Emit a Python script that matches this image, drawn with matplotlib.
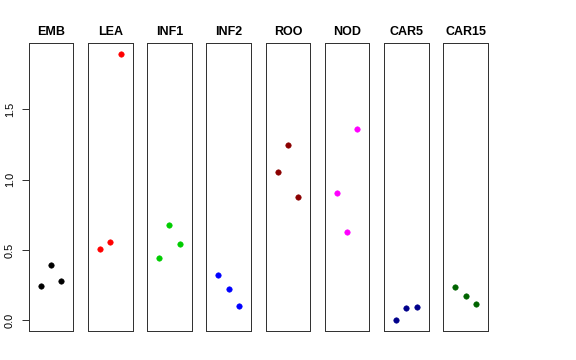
import matplotlib
matplotlib.use('Agg')
import matplotlib.pyplot as plt

plt.rcParams['font.family'] = ['Liberation Sans', 'DejaVu Sans']

# Group names and colours (one panel per group)
groups = ['EMB', 'LEA', 'INF1', 'INF2', 'ROO', 'NOD', 'CAR5', 'CAR15']
colors = ['black', 'red', '#00CD00', 'blue', '#8B0000', 'magenta', '#00008B', '#006400']

# Three replicate values per group
positions = [1, 2, 3]
emb = [0.242, 0.395, 0.282]
lea = [0.509, 0.557, 1.895]
inf1 = [0.441, 0.677, 0.540]
inf2 = [0.320, 0.222, 0.100]
roo = [1.052, 1.248, 0.874]
nod = [0.905, 0.628, 1.358]
car5 = [0.0, 0.087, 0.097]
car15 = [0.235, 0.173, 0.114]
values = [emb, lea, inf1, inf2, roo, nod, car5, car15]

yticks = [0.0, 0.5, 1.0, 1.5]
ytick_labels = ['0.0', '0.5', '1.0', '1.5']

W, H = 576, 360
fig = plt.figure(figsize=(W / 72, H / 72), dpi=72)

# R-style 4% axis expansion with shared y range
all_vals = [v for grp in values for v in grp]
ymin, ymax = min(all_vals), max(all_vals)
ypad = 0.04 * (ymax - ymin)
xmin, xmax = 0, 4
xpad = 0.04 * (xmax - xmin)

left0, step, width = 28.7, 59.23, 44.6
top, bottom = 43.3, 331.0

for i, (name, col, vals) in enumerate(zip(groups, colors, values)):
    x0 = left0 + step * i
    ax = fig.add_axes([x0 / W, (H - bottom) / H, width / W, (bottom - top) / H])
    ax.plot(positions, vals, 'o', color=col, markersize=5.5, markeredgewidth=0.5)
    ax.set_xlim(xmin - xpad, xmax + xpad)
    ax.set_ylim(ymin - ypad, ymax + ypad)
    ax.set_xticks([])
    for sp in ax.spines.values():
        sp.set_linewidth(1.0)
        sp.set_color('#333333')
    ax.set_title(name, fontsize=12.5, fontweight='bold', pad=8.5)
    if i == 0:
        ax.set_yticks(yticks)
        ax.set_yticklabels(ytick_labels, rotation=90, va='center', fontsize=11)
        ax.tick_params(axis='y', length=7, width=1, pad=7, color='#333333')
    else:
        ax.set_yticks([])

fig.savefig('out.png', dpi=72)
